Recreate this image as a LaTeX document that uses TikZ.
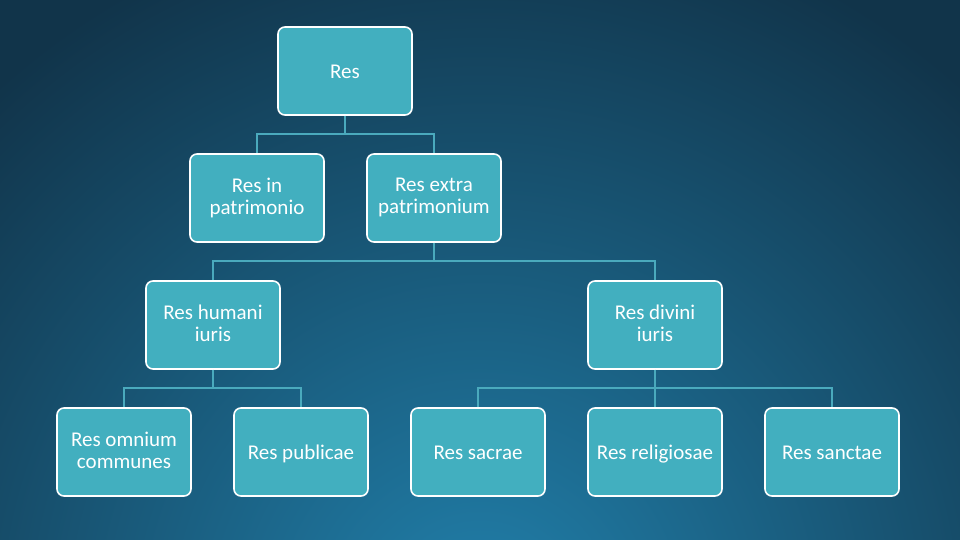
\documentclass[tikz,border=0pt]{standalone}
\usepackage{fontspec}
\setmainfont{Carlito}
\usepackage{xcolor}
\usepackage{tikz}

\definecolor{bgdark}{HTML}{11344A}
\definecolor{bglight}{HTML}{2180AB}
\definecolor{boxfill}{HTML}{42AFBF}
\definecolor{linkcol}{HTML}{4AAABD}

\newcommand{\boxstrut}{\rule[-4pt]{0pt}{23pt}}

\tikzset{
    box/.style={draw=white, line width=1.6pt, fill=boxfill, rounded corners=7pt,
        minimum width=134pt, minimum height=88pt, align=center,
        text=white, font=\fontsize{21}{22}\selectfont,
        execute at begin node=\boxstrut, execute at end node=\boxstrut},
    link/.style={draw=linkcol, line width=1.8pt}
}

\begin{document}
\begin{tikzpicture}[x=1pt,y=-1pt]
    \useasboundingbox (0,0) rectangle (960,540);
    % Background
    \begin{scope}
    \clip (0,0) rectangle (960,540);
    \fill[bgdark] (0,0) rectangle (960,540);
    \shade[inner color=bglight, outer color=bgdark] (480,620) circle (720pt);
    \end{scope}
    % Boxes
    \node[box] (res)  at (345,71)  {Res};
    \node[box] (inp)  at (257,198) {Res in\\patrimonio};
    \node[box] (extp) at (434,198) {Res extra\\patrimonium};
    \node[box] (hum)  at (213,325) {Res humani\\iuris};
    \node[box] (div)  at (655,325) {Res divini\\iuris};
    \node[box] (omn)  at (124,452) {Res omnium\\communes};
    \node[box] (pub)  at (301,452) {Res publicae};
    \node[box] (sac)  at (478,452) {Res sacrae};
    \node[box] (rel)  at (655,452) {Res religiosae};
    \node[box] (san)  at (832,452) {Res sanctae};
    % Connectors
    \draw[link] (res.south) -- ++(0,18) -| (inp.north);
    \draw[link] (res.south) -- ++(0,18) -| (extp.north);
    \draw[link] (extp.south) -- ++(0,18) -| (hum.north);
    \draw[link] (extp.south) -- ++(0,18) -| (div.north);
    \draw[link] (hum.south) -- ++(0,18) -| (omn.north);
    \draw[link] (hum.south) -- ++(0,18) -| (pub.north);
    \draw[link] (div.south) -- ++(0,18) -| (sac.north);
    \draw[link] (div.south) -- ++(0,18) -| (rel.north);
    \draw[link] (div.south) -- ++(0,18) -| (san.north);
\end{tikzpicture}
\end{document}
